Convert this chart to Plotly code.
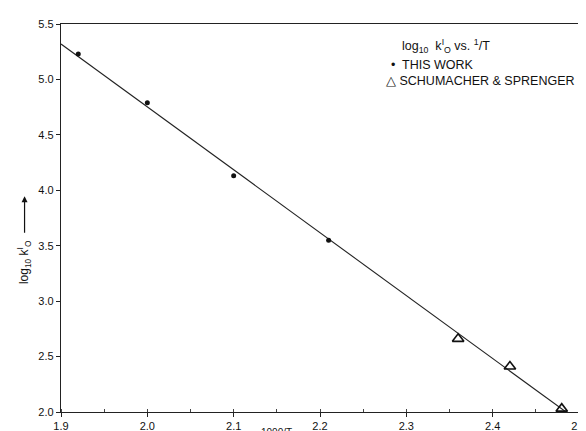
import plotly.graph_objects as go

# Data
this_work_x = [1.92, 2.00, 2.10, 2.21]
this_work_y = [5.23, 4.79, 4.13, 3.55]
schumacher_x = [2.36, 2.42, 2.48]
schumacher_y = [2.66, 2.41, 2.03]
fit_x = [1.90, 2.485]
fit_y = [5.32, 2.00]
x_ticks = [1.9, 2.0, 2.1, 2.2, 2.3, 2.4, 2.5]
y_ticks = [2.0, 2.5, 3.0, 3.5, 4.0, 4.5, 5.0, 5.5]

FONT = "Liberation Sans, Arial, sans-serif"
W, H = 586, 431
L, R, T, B = 53, 7, 16, 23
PW, PH = W - L - R, H - T - B

fig = go.Figure()
fig.add_trace(go.Scatter(x=fit_x, y=fit_y, mode="lines",
                         line=dict(color="#222", width=1.1), showlegend=False))
fig.add_trace(go.Scatter(x=this_work_x, y=this_work_y, mode="markers",
                         marker=dict(color="#111", size=5), showlegend=False))
fig.add_trace(go.Scatter(x=schumacher_x, y=schumacher_y, mode="markers",
                         marker=dict(symbol="triangle-up-open", color="#111", size=10,
                                     line=dict(width=1.6)), showlegend=False))

axis_common = dict(showgrid=False, zeroline=False, showline=True, linecolor="#222",
                   linewidth=1.3, mirror=True, ticks="outside", ticklen=4,
                   tickcolor="#222", tickfont=dict(family=FONT, size=11, color="#111"))
fig.update_xaxes(range=[1.9, 2.5], tickvals=x_ticks,
                 ticktext=[f"{v:.1f}" for v in x_ticks],
                 minor=dict(dtick=0.05, ticks="inside", ticklen=3, tickcolor="#444"),
                 **axis_common)
fig.update_yaxes(range=[2.0, 5.5], tickvals=y_ticks,
                 ticktext=[f"{v:.1f}" for v in y_ticks], **axis_common)

def px(x):
    return (x - L) / PW

def py(y):
    return (H - B - y) / PH

ann = [
    dict(x=397, y=38, text="log<sub>10</sub>  k<sup>I</sup><sub>O</sub> vs. <sup>1</sup>/T"),
    dict(x=386, y=57, text="•  THIS WORK"),
    dict(x=381, y=74, text="△ SCHUMACHER &amp; SPRENGER"),
]
for a in ann:
    fig.add_annotation(x=px(a["x"]), y=py(a["y"]), xref="paper", yref="paper",
                       text=a["text"], showarrow=False, xanchor="left", yanchor="middle",
                       font=dict(family=FONT, size=12.5, color="#111"))

# y-axis title with arrow
fig.add_annotation(xref="paper", yref="paper", x=px(15), y=py(257),
                   xanchor="center", yanchor="middle",
                   text="log<sub>10</sub> k<sup>I</sup><sub>O</sub>", textangle=-90,
                   showarrow=False, font=dict(family=FONT, size=12, color="#111"))
fig.add_annotation(xref="paper", yref="paper", x=px(16), y=py(190),
                   ax=0, ay=38, axref="pixel", ayref="pixel",
                   text="", showarrow=True, arrowhead=2, arrowsize=1, arrowwidth=1.2,
                   arrowcolor="#111")
# x-axis title (cut off at the bottom in the reference)
fig.add_annotation(xref="paper", yref="paper", x=px(254), y=py(421),
                   text="1000/T", showarrow=False, yanchor="top", xanchor="left",
                   font=dict(family=FONT, size=10, color="#111"))

fig.update_layout(width=W, height=H, margin=dict(l=L, r=R, t=T, b=B),
                  plot_bgcolor="white", paper_bgcolor="white")
fig.write_html("out.html")
